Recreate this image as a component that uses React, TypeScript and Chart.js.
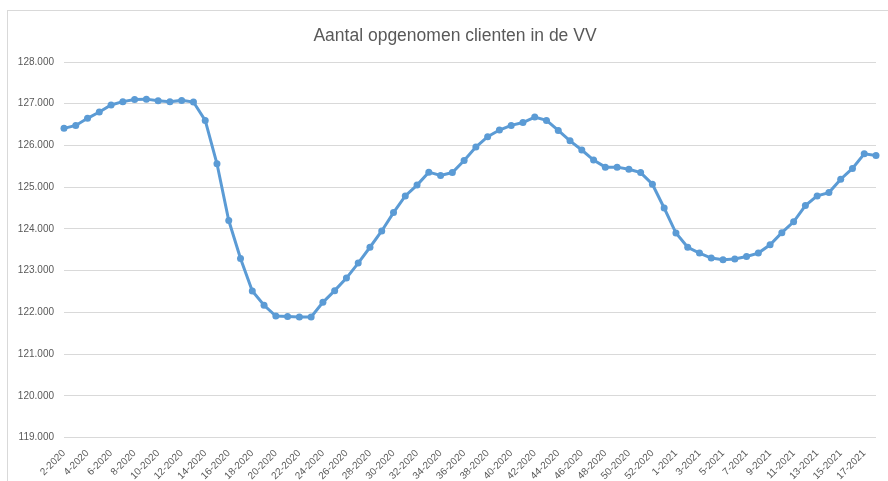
import React, { useEffect, useRef } from "react";
import { Chart, registerables } from "chart.js";

Chart.register(...registerables);

const TITLE = "Aantal opgenomen clienten in de VV";

const weekLabels: string[] = [
  "2-2020", "3-2020", "4-2020", "5-2020", "6-2020", "7-2020", "8-2020", "9-2020", "10-2020", "11-2020",
  "12-2020", "13-2020", "14-2020", "15-2020", "16-2020", "17-2020", "18-2020", "19-2020", "20-2020", "21-2020",
  "22-2020", "23-2020", "24-2020", "25-2020", "26-2020", "27-2020", "28-2020", "29-2020", "30-2020", "31-2020",
  "32-2020", "33-2020", "34-2020", "35-2020", "36-2020", "37-2020", "38-2020", "39-2020", "40-2020", "41-2020",
  "42-2020", "43-2020", "44-2020", "45-2020", "46-2020", "47-2020", "48-2020", "49-2020", "50-2020", "51-2020",
  "52-2020", "53-2020", "1-2021", "2-2021", "3-2021", "4-2021", "5-2021", "6-2021", "7-2021", "8-2021",
  "9-2021", "10-2021", "11-2021", "12-2021", "13-2021", "14-2021", "15-2021", "16-2021", "17-2021", "18-2021",
];

const clients: number[] = [
  126410, 126480, 126650, 126800, 126970, 127050, 127100, 127110, 127070, 127050,
  127080, 127040, 126600, 125560, 124200, 123290, 122510, 122170, 121910, 121900,
  121890, 121890, 122240, 122520, 122820, 123180, 123560, 123950, 124390, 124790,
  125050, 125360, 125280, 125350, 125640, 125960, 126210, 126370, 126480, 126550,
  126680, 126600, 126360, 126110, 125890, 125650, 125480, 125480, 125430, 125350,
  125070, 124500, 123900, 123560, 123420, 123300, 123260, 123280, 123340, 123420,
  123620, 123910, 124170, 124560, 124790, 124870, 125190, 125450, 125800, 125760,
];

const yMin = 119000;
const yMax = 128000;
const yStep = 1000;

function formatThousands(v: number): string {
  const n = Math.round(v);
  const th = Math.floor(n / 1000);
  const rest = String(n % 1000).padStart(3, "0");
  return th + "." + rest;
}

const titlePlugin = {
  id: "customTitle",
  afterDraw(chart: any) {
    const { ctx, chartArea } = chart;
    ctx.save();
    ctx.font = "17.5px 'Liberation Sans', Arial, sans-serif";
    ctx.fillStyle = "#595959";
    ctx.textAlign = "center";
    ctx.textBaseline = "middle";
    const cx = (chartArea.left + chartArea.right) / 2 - 15;
    ctx.fillText(TITLE, cx, chartArea.top - 26);
    ctx.restore();
  },
};

export default function App() {
  const ref = useRef<HTMLCanvasElement | null>(null);

  useEffect(() => {
    document.body.style.margin = "0";
    const canvas = ref.current;
    if (!canvas) return;
    const chart = new Chart(canvas, {
      type: "line",
      data: {
        labels: weekLabels,
        datasets: [
          {
            label: TITLE,
            data: clients,
            borderColor: "#5B9BD5",
            backgroundColor: "#5B9BD5",
            borderWidth: 3,
            pointRadius: 3.5,
            pointBorderWidth: 0,
            pointBackgroundColor: "#5B9BD5",
            tension: 0,
          },
        ],
      },
      plugins: [titlePlugin],
      options: {
        responsive: false,
        animation: false,
        layout: { padding: { top: 62, right: 12, left: 0, bottom: 0 } },
        plugins: {
          legend: { display: false },
          title: { display: false },
          tooltip: { enabled: false },
        },
        scales: {
          x: {
            type: "category",
            offset: false,
            grid: { display: false },
            border: { display: false },
            ticks: {
              autoSkip: false,
              maxRotation: 45,
              minRotation: 45,
              padding: 2,
              color: "#595959",
              font: { family: "'Liberation Sans', Arial, sans-serif", size: 10 },
              callback: (_v: any, i: number) => (i % 2 === 0 ? weekLabels[i] : ""),
            },
            afterFit: (scale: any) => {
              scale.height = 43.5;
            },
          },
          y: {
            min: yMin,
            max: yMax,
            grid: { color: "#D9D9D9", lineWidth: 1, drawTicks: false },
            border: { display: false },
            ticks: {
              stepSize: yStep,
              padding: 10,
              color: "#595959",
              font: { family: "'Liberation Sans', Arial, sans-serif", size: 10 },
              callback: (v: any) => formatThousands(Number(v)),
            },
            afterFit: (scale: any) => {
              scale.width = 64;
            },
          },
        },
      },
    });
    return () => chart.destroy();
  }, []);

  return (
    <div style={{ position: "relative", width: 888, height: 481, overflow: "hidden", background: "#fff" }}>
      <div
        style={{
          position: "absolute",
          left: 7,
          top: 10,
          width: 920,
          height: 520,
          border: "1px solid #D9D9D9",
        }}
      />
      <canvas ref={ref} width={888} height={481} style={{ position: "absolute", left: 0, top: 0 }} />
    </div>
  );
}
